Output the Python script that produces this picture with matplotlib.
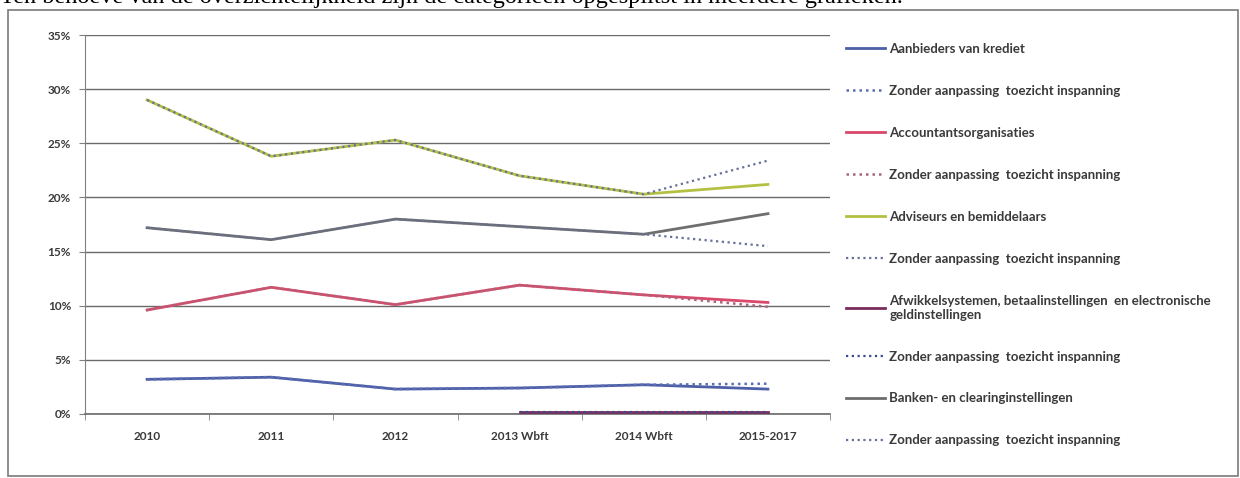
import numpy as np
import matplotlib.pyplot as plt
from matplotlib.patches import Rectangle

# DATA (percentages)
categories = ['2010', '2011', '2012', '2013 Wbft', '2014 Wbft', '2015-2017']

aanbieders = [3.2, 3.4, 2.3, 2.4, 2.7, 2.3]
aanbieders_zonder = [3.2, 3.4, 2.3, 2.4, 2.7, 2.8]
accountants = [9.6, 11.7, 10.1, 11.9, 11.0, 10.3]
accountants_zonder = [9.6, 11.7, 10.1, 11.9, 11.0, 9.9]
adviseurs = [29.0, 23.8, 25.3, 22.0, 20.3, 21.2]
adviseurs_zonder = [29.0, 23.8, 25.3, 22.0, 20.3, 23.4]
afwikkel = [np.nan, np.nan, np.nan, 0.2, 0.2, 0.2]
afwikkel_zonder = [np.nan, np.nan, np.nan, 0.2, 0.2, 0.2]
banken = [17.2, 16.1, 18.0, 17.3, 16.6, 18.5]
banken_zonder = [17.2, 16.1, 18.0, 17.3, 16.6, 15.5]

zonder = 'Zonder aanpassing  toezicht inspanning'

plt.rcParams['font.family'] = ['Lato', 'DejaVu Sans']
txt = '#3a3a3a'

fig = plt.figure(figsize=(12.4, 4.78), dpi=100)

# sentence above the chart box, cut off by the page edge as in the scan
fig.text(0.0, 1 - 3 / 478, 'Ten behoeve van de overzichtelijkheid zijn de categorieën opgesplitst in meerdere grafieken.',
         family='Liberation Serif', fontsize=17.5, color='black', va='baseline', ha='left')

# chart box
fig.add_artist(Rectangle((8 / 1240, 2 / 478), 1230 / 1240, 1 - 12 / 478, transform=fig.transFigure,
                         fill=False, edgecolor='#7a7a7a', lw=1.2))

ax = fig.add_axes([85 / 1240, 1 - 414 / 478, (830 - 85) / 1240, (414 - 35) / 478])
x = np.arange(len(categories))

dot = (0, (1, 1.6))
series = [
    (aanbieders, '#4d5fa6', '-', 2.0, 'Aanbieders van krediet'),
    (aanbieders_zonder, '#5b6db3', dot, 1.8, zonder),
    (accountants, '#d9496b', '-', 2.0, 'Accountantsorganisaties'),
    (accountants_zonder, '#a86577', dot, 1.8, zonder),
    (adviseurs, '#b4c042', '-', 2.0, 'Adviseurs en bemiddelaars'),
    (adviseurs_zonder, '#66709a', dot, 1.6, zonder),
    (afwikkel, '#7a2d5c', '-', 2.0, 'Afwikkelsystemen, betaalinstellingen  en electronische\ngeldinstellingen'),
    (afwikkel_zonder, '#3d4a8c', dot, 1.6, zonder),
    (banken, '#6e6e6e', '-', 2.0, 'Banken- en clearinginstellingen'),
    (banken_zonder, '#66709a', dot, 1.6, zonder),
]
for vals, col, ls, lw, lab in series:
    ax.plot(x, vals, color=col, linestyle=ls, lw=lw, label=lab, zorder=3)

ax.set_xlim(-0.5, len(categories) - 0.5)
ax.set_ylim(0, 35)
ax.set_yticks(np.arange(0, 36, 5))
ax.set_yticklabels([f'{v}%' for v in range(0, 36, 5)])
ax.set_xticks(x)
ax.set_xticklabels(categories)
ax.set_xticks(np.arange(-0.5, len(categories), 1), minor=True)

ax.grid(axis='y', color='#6a6a6a', lw=1)
ax.set_axisbelow(True)
for s in ['top', 'right']:
    ax.spines[s].set_visible(False)
ax.spines['left'].set_color('#808080')
ax.spines['bottom'].set_color('#6a6a6a')
ax.spines['bottom'].set_linewidth(1.2)
ax.tick_params(axis='y', length=4, color='#808080', pad=6, labelsize=8.5, labelcolor=txt)
ax.tick_params(axis='x', which='major', length=0, pad=12, labelsize=8.5, labelcolor=txt)
ax.tick_params(axis='x', which='minor', length=4, color='#808080')
for t in ax.get_xticklabels() + ax.get_yticklabels():
    t.set_fontweight('bold')

leg = fig.legend(loc='upper left', bbox_to_anchor=(834 / 1240, 1 - 31 / 478), frameon=False,
                 handlelength=3.0, handletextpad=0.3, labelspacing=2.27,
                 prop={'weight': 'bold', 'size': 9.5})
for t in leg.get_texts():
    t.set_color(txt)

fig.savefig('out.png', dpi=100)
